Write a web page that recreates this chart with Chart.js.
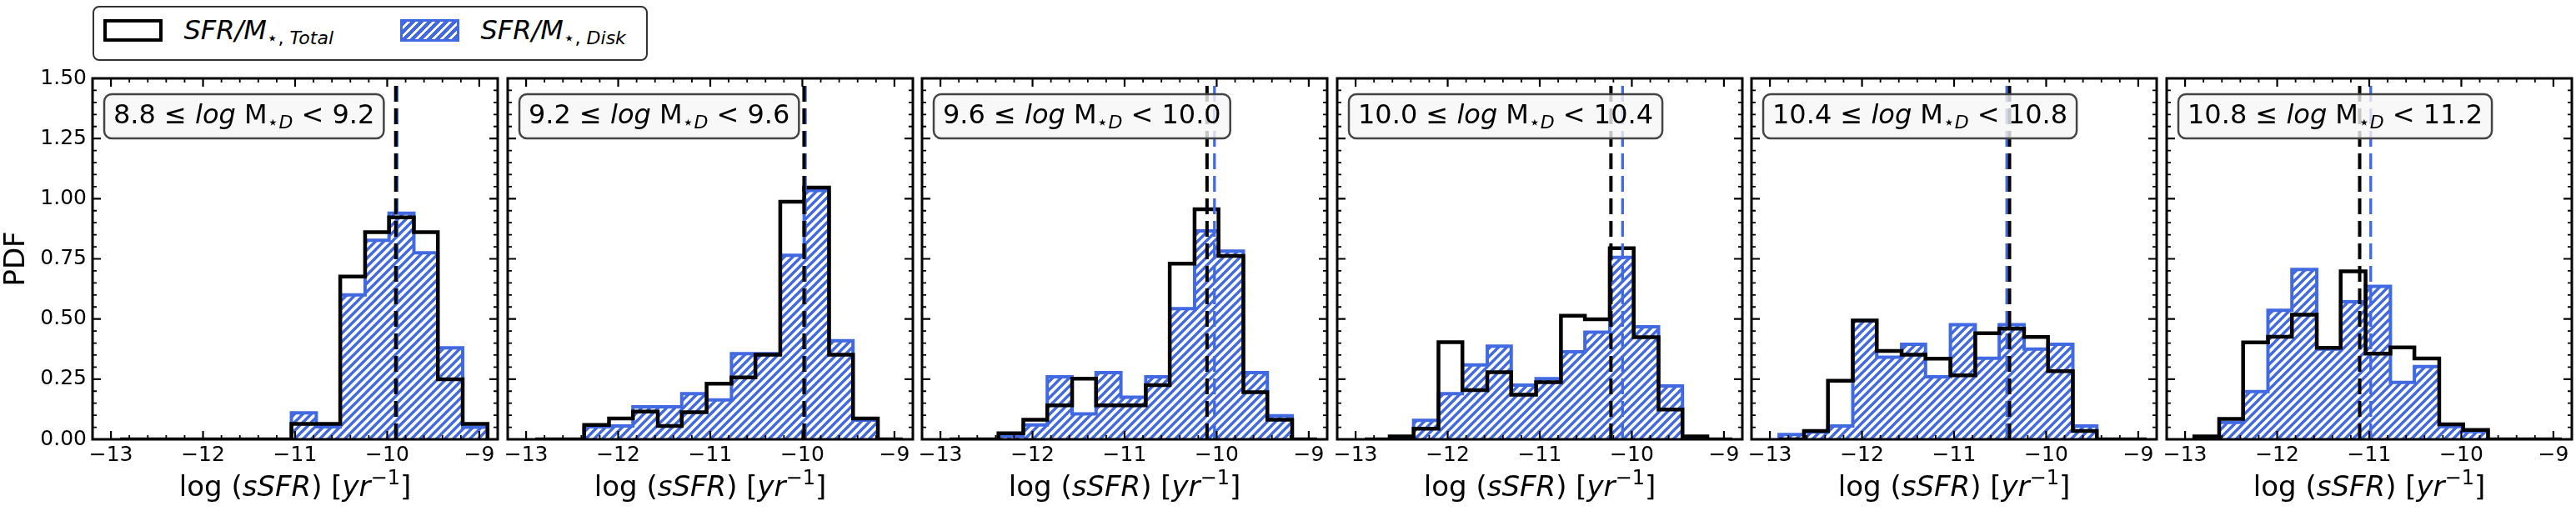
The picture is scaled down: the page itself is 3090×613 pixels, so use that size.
<!DOCTYPE html>
<html><head><meta charset="utf-8">
<script src="https://cdn.jsdelivr.net/npm/chart.js@4.4.1/dist/chart.umd.min.js"></script>
<style>
html,body{margin:0;padding:0;background:#fff;width:3090px;height:613px;overflow:hidden;font-family:"DejaVu Sans";}
canvas{position:absolute;top:0;}
#legend{position:absolute;left:111px;top:7px;width:666px;height:66px;box-sizing:border-box;border:2.5px solid #333;border-radius:8px;background:#fff;}
#legend .patch{position:absolute;top:13.5px;width:71px;height:27px;box-sizing:border-box;}
#legend .lt{position:absolute;top:10.5px;font-size:32px;line-height:32px;white-space:nowrap;color:#000;}
#legend .sub{font-size:22px;position:relative;top:6px;}
</style></head><body>
<div id="legend">
  <div class="patch" style="left:10.5px;border:4.5px solid #000;background:#fff;"></div>
  <div class="lt" style="left:107.5px;"><i>SFR/M</i><span class="sub">⋆, <i>Total</i></span></div>
  <div class="patch" style="left:366.5px;border:3px solid #4169e1;background:repeating-linear-gradient(135deg,#4169e1 0px,#4169e1 4.2px,#fff 4.2px,#fff 7.07px);"></div>
  <div class="lt" style="left:463.5px;"><i>SFR/M</i><span class="sub">⋆, <i>Disk</i></span></div>
</div>
<script>
// ---------------- data ----------------
const binEdges = [-12.90, -12.63, -12.37, -12.10, -11.84, -11.57, -11.31, -11.04, -10.77, -10.51, -10.24, -9.98, -9.71, -9.45, -9.18, -8.91];
const xTickValues = [-13, -12, -11, -10, -9];
const yTickValues = [0, 0.25, 0.5, 0.75, 1.0, 1.25, 1.5];
const massLow  = ['8.8', '9.2', '9.6', '10.0', '10.4', '10.8'];
const massHigh = ['9.2', '9.6', '10.0', '10.4', '10.8', '11.2'];

const totalP1 = [0, 0, 0, 0, 0, 0, 0, 0.064, 0.064, 0.676, 0.861, 0.922, 0.861, 0.249, 0.064];
const diskP1  = [0, 0, 0, 0, 0, 0, 0, 0.110, 0.052, 0.600, 0.827, 0.940, 0.775, 0.380, 0.050];
const totalP2 = [0, 0, 0.060, 0.087, 0.115, 0.055, 0.113, 0.231, 0.257, 0.352, 0.987, 1.046, 0.352, 0.087, 0];
const diskP2  = [0, 0, 0.052, 0.055, 0.135, 0.135, 0.190, 0.164, 0.356, 0.356, 0.765, 1.034, 0.410, 0.080, 0];
const totalP3 = [0, 0, 0.025, 0.081, 0.141, 0.252, 0.141, 0.141, 0.225, 0.730, 0.956, 0.762, 0.196, 0.081, 0];
const diskP3  = [0, 0, 0.014, 0.060, 0.260, 0.106, 0.277, 0.175, 0.260, 0.543, 0.866, 0.782, 0.277, 0.098, 0];
const totalP4 = [0, 0.012, 0.044, 0.404, 0.204, 0.279, 0.185, 0.237, 0.514, 0.499, 0.794, 0.424, 0.124, 0.012, 0];
const diskP4  = [0, 0, 0.079, 0.190, 0.309, 0.387, 0.225, 0.252, 0.364, 0.445, 0.756, 0.468, 0.222, 0, 0];
const totalP5 = [0, 0.035, 0.243, 0.494, 0.367, 0.352, 0.335, 0.266, 0.441, 0.460, 0.425, 0.283, 0.035, 0, 0];
const diskP5  = [0.020, 0.030, 0.055, 0.494, 0.341, 0.395, 0.260, 0.476, 0.337, 0.476, 0.375, 0.395, 0.055, 0, 0];
const totalP6 = [0.012, 0.085, 0.403, 0.426, 0.518, 0.380, 0.698, 0.356, 0.382, 0.336, 0.062, 0.039, 0, 0, 0];
const diskP6  = [0, 0.070, 0.198, 0.536, 0.706, 0.375, 0.572, 0.636, 0.236, 0.302, 0.053, 0.032, 0, 0, 0];

const medianTotal = [-9.907, -9.982, -10.105, -10.227, -10.398, -11.104];
const medianDisk  = [-9.892, -9.967, -10.024, -10.101, -10.428, -10.984];

const totals = [totalP1, totalP2, totalP3, totalP4, totalP5, totalP6];
const disks  = [diskP1, diskP2, diskP3, diskP4, diskP5, diskP6];

// ---------------- layout / style ----------------
const FONT = '"DejaVu Sans"';
const BLUE = '#4169e1';
const PANEL_W = 486, TOP = 94, XAXIS_H = 86, PAGE_H = 613, MARGIN = 50;
const panelLeft = [111, 608.5, 1106, 1603.5, 2101, 2598.5];

Chart.defaults.font.family = FONT;
Chart.defaults.color = '#000';

function makeHatch() {
  const c = document.createElement('canvas');
  c.width = 10; c.height = 10;
  const g = c.getContext('2d');
  g.fillStyle = '#fff'; g.fillRect(0, 0, 10, 10);
  g.strokeStyle = BLUE; g.lineWidth = 3.4; g.lineCap = 'square';
  g.beginPath();
  g.moveTo(-5, 5); g.lineTo(5, -5);
  g.moveTo(0, 10); g.lineTo(10, 0);
  g.moveTo(5, 15); g.lineTo(15, 5);
  g.stroke();
  return g.createPattern(c, 'repeat');
}

function stepPoints(edges, vals) {
  const pts = [{x: edges[0], y: 0}];
  for (let k = 0; k < vals.length; k++) {
    pts.push({x: edges[k], y: vals[k]});
    pts.push({x: edges[k + 1], y: vals[k]});
  }
  pts.push({x: edges[edges.length - 1], y: 0});
  return pts;
}

function fontStr(s) { return (s.italic ? 'italic ' : '') + s.size + 'px ' + FONT; }
function measureRich(ctx, segs) {
  let w = 0;
  for (const s of segs) { ctx.font = fontStr(s); s.w = ctx.measureText(s.t).width; w += s.w; }
  return w;
}
function drawRich(ctx, segs, x, baseline, align) {
  const w = measureRich(ctx, segs);
  let cx = align === 'center' ? x - w / 2 : x;
  ctx.textAlign = 'left'; ctx.textBaseline = 'alphabetic';
  for (const s of segs) {
    ctx.font = fontStr(s);
    ctx.fillText(s.t, cx, baseline + (s.dy || 0));
    cx += s.w;
  }
  return w;
}
function boxSegs(lo, hi) {
  return [
    {t: lo + ' ≤ ', size: 32},
    {t: 'log', size: 32, italic: true},
    {t: ' M', size: 32},
    {t: '⋆', size: 22, dy: 6},
    {t: 'D', size: 22, italic: true, dy: 6},
    {t: ' < ' + hi, size: 32}
  ];
}
const xTitleSegs = () => [
  {t: 'log (', size: 34},
  {t: 'sSFR', size: 34, italic: true},
  {t: ') [', size: 34},
  {t: 'yr', size: 34, italic: true},
  {t: '−1', size: 24, dy: -14},
  {t: ']', size: 34}
];
function roundRectPath(ctx, x, y, w, h, r) {
  ctx.beginPath();
  ctx.moveTo(x + r, y);
  ctx.lineTo(x + w - r, y); ctx.arcTo(x + w, y, x + w, y + r, r);
  ctx.lineTo(x + w, y + h - r); ctx.arcTo(x + w, y + h, x + w - r, y + h, r);
  ctx.lineTo(x + r, y + h); ctx.arcTo(x, y + h, x, y + h - r, r);
  ctx.lineTo(x, y + r); ctx.arcTo(x, y, x + r, y, r);
  ctx.closePath();
}

const framePlugin = {
  id: 'frame',
  afterDatasetsDraw(chart, args, opts) {
    const {ctx, chartArea: a} = chart;
    ctx.save();
    const segs = boxSegs(opts.lo, opts.hi);
    const tw = measureRich(ctx, segs);
    const bx = a.left + 14, by = a.top + 19, bw = tw + 22, bh = 53;
    roundRectPath(ctx, bx, by, bw, bh, 9);
    ctx.fillStyle = 'rgba(246,246,246,0.8)'; ctx.fill();
    ctx.lineWidth = 2.5; ctx.strokeStyle = '#444'; ctx.stroke();
    ctx.fillStyle = '#000';
    drawRich(ctx, segs, bx + 11, by + 35);
    ctx.restore();
  },
  afterDraw(chart) {
    const {ctx, chartArea: a, scales: {x, y}} = chart;
    ctx.save();
    ctx.strokeStyle = '#000';
    ctx.lineCap = 'butt';
    // minor ticks
    ctx.lineWidth = 1.8;
    ctx.beginPath();
    for (let k = -65; k <= -45; k++) {
      if (k % 5 === 0) continue;
      const px = x.getPixelForValue(k * 0.2);
      ctx.moveTo(px, a.bottom); ctx.lineTo(px, a.bottom - 5);
      ctx.moveTo(px, a.top); ctx.lineTo(px, a.top + 5);
    }
    for (let k = 1; k < 30; k++) {
      if (k % 5 === 0) continue;
      const py = y.getPixelForValue(k * 0.05);
      ctx.moveTo(a.left, py); ctx.lineTo(a.left + 5, py);
      ctx.moveTo(a.right, py); ctx.lineTo(a.right - 5, py);
    }
    ctx.stroke();
    // major ticks
    ctx.lineWidth = 2.2;
    ctx.beginPath();
    for (const v of xTickValues) {
      const px = x.getPixelForValue(v);
      ctx.moveTo(px, a.bottom); ctx.lineTo(px, a.bottom - 10);
      ctx.moveTo(px, a.top); ctx.lineTo(px, a.top + 10);
    }
    for (const v of yTickValues) {
      const py = y.getPixelForValue(v);
      ctx.moveTo(a.left, py); ctx.lineTo(a.left + 10, py);
      ctx.moveTo(a.right, py); ctx.lineTo(a.right - 10, py);
    }
    ctx.stroke();
    // spines
    ctx.lineWidth = 3;
    ctx.strokeRect(a.left, a.top, a.right - a.left, a.bottom - a.top);
    // x title
    ctx.fillStyle = '#000';
    drawRich(ctx, xTitleSegs(), (a.left + a.right) / 2, 595, 'center');
    ctx.restore();
  }
};

const hatch = makeHatch();

for (let i = 0; i < 6; i++) {
  const first = i === 0;
  const cv = document.createElement('canvas');
  const leftPad = first ? 0 : MARGIN;
  const yAxisW = first ? panelLeft[0] : 0;
  const cLeft = first ? 0 : panelLeft[i] - MARGIN;
  const cW = (first ? panelLeft[0] : MARGIN) + PANEL_W + MARGIN;
  cv.width = cW; cv.height = PAGE_H;
  cv.style.left = cLeft + 'px';
  cv.style.width = cW + 'px'; cv.style.height = PAGE_H + 'px';
  document.body.appendChild(cv);

  new Chart(cv, {
    type: 'line',
    data: {
      datasets: [
        {
          label: 'SFR/M⋆,Disk',
          data: stepPoints(binEdges, disks[i]),
          borderColor: BLUE, borderWidth: 4, backgroundColor: hatch,
          fill: 'origin', pointRadius: 0, tension: 0, order: 4
        },
        {
          label: 'SFR/M⋆,Total',
          data: stepPoints(binEdges, totals[i]),
          borderColor: '#000', borderWidth: 4.5, fill: false,
          pointRadius: 0, tension: 0, order: 3
        },
        {
          label: 'median Disk',
          data: [{x: medianDisk[i], y: 0}, {x: medianDisk[i], y: 1.5}],
          borderColor: BLUE, borderWidth: 3.3, borderDash: [19, 8],
          fill: false, pointRadius: 0, order: 2
        },
        {
          label: 'median Total',
          data: [{x: medianTotal[i], y: 0}, {x: medianTotal[i], y: 1.5}],
          borderColor: '#000', borderWidth: 4, borderDash: [19, 8],
          fill: false, pointRadius: 0, order: 1
        }
      ]
    },
    options: {
      responsive: false,
      animation: false,
      events: [],
      layout: {padding: {left: leftPad, right: MARGIN, top: TOP, bottom: 0}},
      plugins: {
        legend: {display: false},
        tooltip: {enabled: false},
        frame: {lo: massLow[i], hi: massHigh[i]}
      },
      scales: {
        x: {
          type: 'linear', min: -13.2, max: -8.8,
          grid: {display: false, drawTicks: false},
          border: {display: false},
          afterBuildTicks: s => { s.ticks = xTickValues.map(v => ({value: v})); },
          afterFit: s => { s.height = XAXIS_H; },
          ticks: {
            padding: 4, maxRotation: 0, autoSkip: false, color: '#000',
            font: {size: 25, family: FONT},
            callback: v => (v < 0 ? '\u2212' + Math.abs(v) : String(v))
          }
        },
        y: {
          type: 'linear', min: 0, max: 1.5,
          display: first,
          grid: {display: false, drawTicks: false},
          border: {display: false},
          afterBuildTicks: s => { s.ticks = yTickValues.map(v => ({value: v})); },
          afterFit: s => { s.width = yAxisW; },
          ticks: {
            padding: 7, color: '#000', autoSkip: false,
            font: {size: 25, family: FONT},
            callback: v => Number(v).toFixed(2)
          },
          title: {
            display: first, text: 'PDF', color: '#000',
            font: {size: 34, family: FONT}, padding: {top: 0, bottom: 0}
          }
        }
      }
    },
    plugins: [framePlugin]
  });
}
</script>
</body></html>
